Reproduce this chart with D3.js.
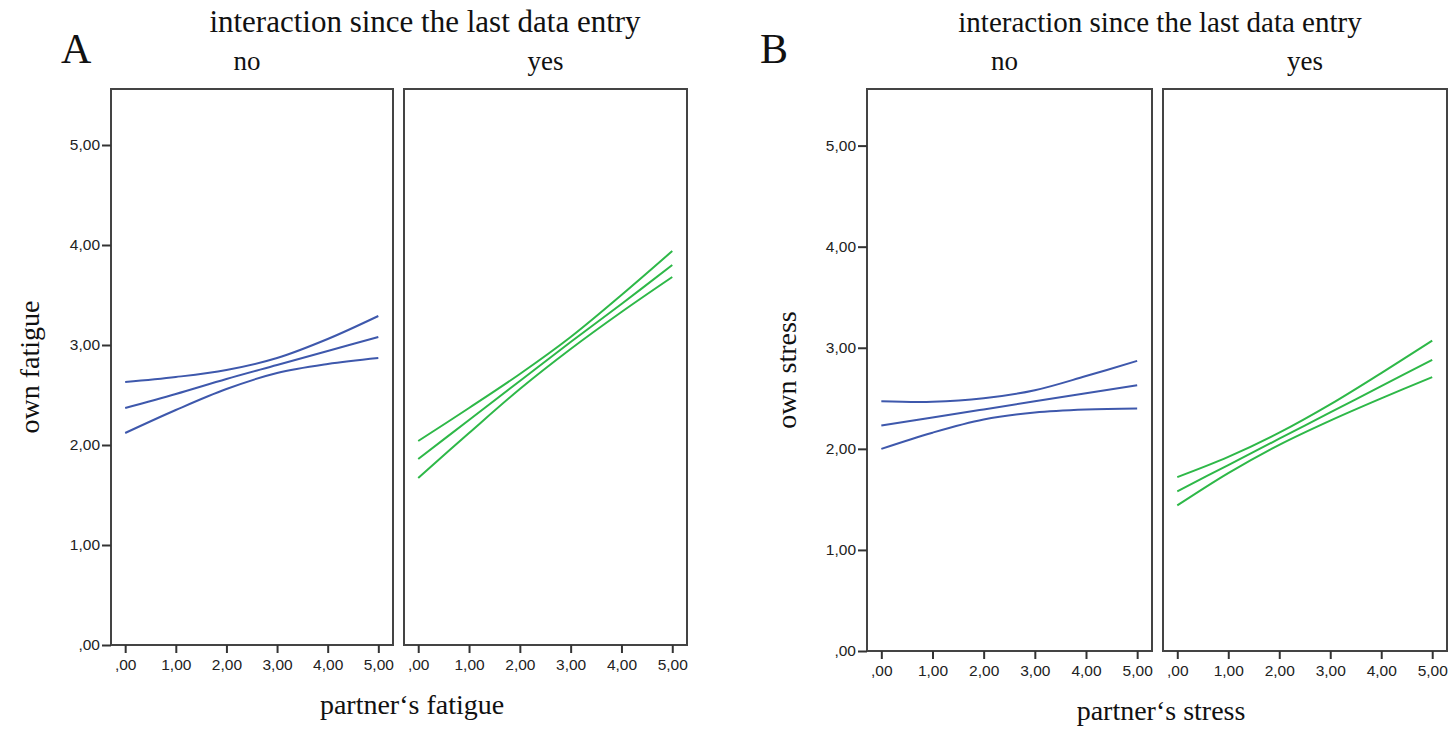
<!DOCTYPE html>
<html>
<head>
<meta charset="utf-8">
<script src="https://cdn.jsdelivr.net/npm/d3@7"></script>
<style>
    body { margin: 0; background: #fff; }
    svg { display: block; }
    .tick text { font-family: "Liberation Sans", Arial, sans-serif; font-size: 15.5px; fill: #222; }
    .serif { font-family: "Liberation Serif", "Times New Roman", serif; fill: #111; }
</style>
</head>
<body>
<svg id="chart" width="1452" height="729"></svg>
<script>
// values, at partner's score 0..5
const partnerScore = [0, 1, 2, 3, 4, 5];
const xTicks = [0, 1, 2, 3, 4, 5];
const yTicks = [0, 1, 2, 3, 4, 5];
const facetLabels = ["no", "yes"];

const fatigueNoUpper = [2.63, 2.68, 2.75, 2.87, 3.06, 3.29];
const fatigueNoFit = [2.37, 2.51, 2.66, 2.80, 2.94, 3.08];
const fatigueNoLower = [2.12, 2.35, 2.56, 2.72, 2.81, 2.87];
const fatigueYesUpper = [2.04, 2.37, 2.71, 3.08, 3.50, 3.94];
const fatigueYesFit = [1.86, 2.25, 2.64, 3.03, 3.41, 3.80];
const fatigueYesLower = [1.67, 2.12, 2.56, 2.96, 3.33, 3.68];

const stressNoUpper = [2.47, 2.465, 2.50, 2.58, 2.72, 2.87];
const stressNoFit = [2.23, 2.31, 2.39, 2.47, 2.55, 2.63];
const stressNoLower = [2.00, 2.16, 2.29, 2.36, 2.39, 2.40];
const stressYesUpper = [1.72, 1.92, 2.16, 2.44, 2.75, 3.07];
const stressYesFit = [1.58, 1.84, 2.10, 2.36, 2.62, 2.88];
const stressYesLower = [1.44, 1.76, 2.04, 2.28, 2.50, 2.71];

const groupColors = ["#3e58ac", "#2eb848"];

const charts = [
    {
        letter: "A", letterX: 61,
        panels: [{x: 111, w: 282}, {x: 404, w: 283}],
        top: 89, bottom: 645,
        titleX: 425, titleSize: 31,
        xTitle: "partner‘s fatigue", xTitleX: 412, xTitleY: 714,
        yTitle: "own fatigue", yTitleX: 39,
        series: [
            [fatigueNoUpper, fatigueNoFit, fatigueNoLower],
            [fatigueYesUpper, fatigueYesFit, fatigueYesLower]
        ]
    },
    {
        letter: "B", letterX: 760,
        panels: [{x: 867, w: 285}, {x: 1163, w: 284}],
        top: 89, bottom: 651,
        titleX: 1160, titleSize: 29,
        xTitle: "partner‘s stress", xTitleX: 1161, xTitleY: 720,
        yTitle: "own stress", yTitleX: 796,
        series: [
            [stressNoUpper, stressNoFit, stressNoLower],
            [stressYesUpper, stressYesFit, stressYesLower]
        ]
    }
];

const tickFormat = v => v === 0 ? ",00" : v.toFixed(2).replace(".", ",");

const svg = d3.select("#chart");

charts.forEach(chart => {
    const g = svg.append("g").attr("class", "chart-" + chart.letter);

    let y = d3.scaleLinear()
        .domain([0, 5.56])
        .range([chart.bottom, chart.top]);

    g.append("text").attr("class", "serif")
        .attr("x", chart.letterX).attr("y", 63)
        .attr("font-size", 42)
        .text(chart.letter);

    g.append("text").attr("class", "serif")
        .attr("x", chart.titleX).attr("y", 32)
        .attr("text-anchor", "middle")
        .attr("font-size", chart.titleSize)
        .text("interaction since the last data entry");

    chart.panels.forEach((p, i) => {
        let x = d3.scaleLinear()
            .domain([-0.28, 5.29])
            .range([p.x, p.x + p.w]);

        g.append("text").attr("class", "serif")
            .attr("x", p.x + p.w / 2 - (i === 0 ? 5 : 0)).attr("y", 70)
            .attr("text-anchor", "middle")
            .attr("font-size", 27)
            .text(facetLabels[i]);

        var line = d3.line()
            .x((d, k) => x(partnerScore[k]))
            .y(d => y(d))
            .curve(d3.curveCatmullRom.alpha(0.5));

        g.append("g").selectAll("path")
            .data(chart.series[i])
            .join("path")
            .attr("fill", "none")
            .attr("stroke", groupColors[i])
            .attr("stroke-width", 2)
            .attr("d", d => line(d));

        g.append("rect")
            .attr("x", p.x).attr("y", chart.top)
            .attr("width", p.w).attr("height", chart.bottom - chart.top)
            .attr("fill", "none")
            .attr("stroke", "#444")
            .attr("stroke-width", 2);

        let xAxis = g.append("g")
            .attr("transform", "translate(0," + chart.bottom + ")")
            .call(d3.axisBottom(x).tickValues(xTicks).tickSize(8).tickPadding(6).tickFormat(tickFormat));
        xAxis.select(".domain").remove();
        xAxis.selectAll(".tick line").attr("stroke", "#333").attr("stroke-width", 2);

        if (i === 0) {
            let yAxis = g.append("g")
                .attr("transform", "translate(" + p.x + ",0)")
                .call(d3.axisLeft(y).tickValues(yTicks).tickSize(9).tickPadding(2).tickFormat(tickFormat));
            yAxis.select(".domain").remove();
            yAxis.selectAll(".tick line").attr("stroke", "#333").attr("stroke-width", 2);
        }
    });

    g.append("text").attr("class", "serif")
        .attr("x", chart.xTitleX).attr("y", chart.xTitleY)
        .attr("text-anchor", "middle")
        .attr("font-size", 28)
        .text(chart.xTitle);

    g.append("text").attr("class", "serif")
        .attr("transform", "translate(" + chart.yTitleX + "," + (chart.top + chart.bottom) / 2 + ") rotate(-90)")
        .attr("text-anchor", "middle")
        .attr("font-size", 28)
        .text(chart.yTitle);
});
</script>
</body>
</html>
